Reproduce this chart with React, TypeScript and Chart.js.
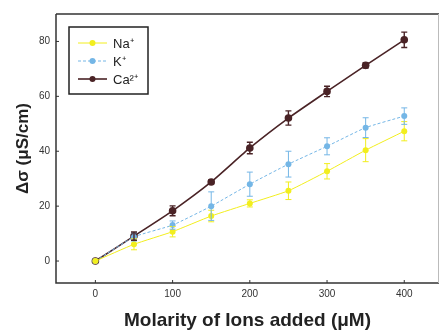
import React, { useEffect, useRef } from "react";
import { Chart, registerables } from "chart.js";

Chart.register(...registerables);

const MOLARITY = [0, 50, 100, 150, 200, 250, 300, 350, 400];
const NA_VALUES = [0, 6.1, 10.7, 16.4, 21.0, 25.6, 32.7, 40.4, 47.3];
const NA_ERRORS = [0, 2.0, 1.9, 2.1, 1.3, 3.2, 2.8, 4.2, 3.5];
const K_VALUES = [0, 8.8, 13.1, 20.0, 28.0, 35.3, 41.8, 48.6, 52.8];
const K_ERRORS = [0, 1.5, 1.5, 5.2, 4.4, 4.7, 3.1, 3.6, 3.0];
const CA_VALUES = [0, 9.1, 18.3, 28.8, 41.2, 52.1, 61.8, 71.3, 80.6];
const CA_ERRORS = [0, 1.5, 1.8, 0.7, 2.1, 2.6, 1.9, 1.0, 2.8];
const X_TICKS = [0, 100, 200, 300, 400];
const Y_TICKS = [0, 20, 40, 60, 80];
const SERIES_LABELS = ["Na⁺", "K⁺", "Ca²⁺"];

const COLORS = ["#f2ee1e", "#74b6e6", "#4a2326"];
const FONT = "Arial, 'Liberation Sans', sans-serif";

const errorBarPlugin = {
  id: "errorBars",
  afterDatasetsDraw(chart: any) {
    const ctx = chart.ctx;
    const xs = chart.scales.x;
    const ys = chart.scales.y;
    const errs = [NA_ERRORS, K_ERRORS, CA_ERRORS];
    const vals = [NA_VALUES, K_VALUES, CA_VALUES];
    ctx.save();
    errs.forEach((e, di) => {
      ctx.strokeStyle = COLORS[di];
      ctx.lineWidth = di === 2 ? 1.4 : 1;
      MOLARITY.forEach((m, i) => {
        if (!e[i]) return;
        const x = xs.getPixelForValue(m);
        const y1 = ys.getPixelForValue(vals[di][i] + e[i]);
        const y2 = ys.getPixelForValue(vals[di][i] - e[i]);
        ctx.beginPath();
        ctx.moveTo(x, y1);
        ctx.lineTo(x, y2);
        ctx.moveTo(x - 3, y1);
        ctx.lineTo(x + 3, y1);
        ctx.moveTo(x - 3, y2);
        ctx.lineTo(x + 3, y2);
        ctx.stroke();
      });
    });
    ctx.restore();
  },
  afterDraw(chart: any) {
    const ctx = chart.ctx;
    const xs = chart.scales.x;
    const ys = chart.scales.y;
    const a = chart.chartArea;
    ctx.save();
    ctx.strokeStyle = "#333";
    ctx.lineWidth = 1.5;
    ctx.beginPath();
    ctx.moveTo(a.left, a.top);
    ctx.lineTo(a.left, a.bottom);
    ctx.lineTo(a.right, a.bottom);
    ctx.moveTo(a.left, a.top);
    ctx.lineTo(a.right, a.top);
    ctx.stroke();
    ctx.strokeStyle = "#bbb";
    ctx.lineWidth = 1;
    ctx.beginPath();
    ctx.moveTo(a.right - 0.5, a.top);
    ctx.lineTo(a.right - 0.5, a.bottom);
    ctx.stroke();
    ctx.strokeStyle = "#333";
    ctx.lineWidth = 1;
    ctx.beginPath();
    X_TICKS.forEach((v) => {
      const x = xs.getPixelForValue(v);
      ctx.moveTo(x, a.bottom);
      ctx.lineTo(x, a.bottom - 3);
    });
    Y_TICKS.forEach((v) => {
      const y = ys.getPixelForValue(v);
      ctx.moveTo(a.left, y);
      ctx.lineTo(a.left + 3, y);
    });
    ctx.stroke();
    const lx = 69, ly = 27, lw = 79, lh = 67;
    ctx.strokeStyle = "#222";
    ctx.lineWidth = 1.5;
    ctx.strokeRect(lx, ly, lw, lh);
    ctx.font = "13px " + FONT;
    ctx.textBaseline = "middle";
    SERIES_LABELS.forEach((lab, i) => {
      const y = 43 + i * 18;
      ctx.strokeStyle = COLORS[i];
      ctx.lineWidth = i === 2 ? 1.6 : 1;
      ctx.setLineDash(i === 1 ? [3, 2] : []);
      ctx.beginPath();
      ctx.moveTo(78, y);
      ctx.lineTo(107, y);
      ctx.stroke();
      ctx.setLineDash([]);
      ctx.fillStyle = COLORS[i];
      ctx.beginPath();
      ctx.arc(92.5, y, 3, 0, Math.PI * 2);
      ctx.fill();
      ctx.fillStyle = "#222";
      ctx.fillText(lab, 113, y + 1);
    });
    ctx.restore();
  },
};

export default function App() {
  const ref = useRef<HTMLCanvasElement>(null);
  useEffect(() => {
    if (!ref.current) return;
    const mk = (label: string, vals: number[], i: number) => ({
      label,
      data: MOLARITY.map((m, j) => ({ x: m, y: vals[j] })),
      borderColor: COLORS[i],
      backgroundColor: COLORS[i],
      borderWidth: i === 2 ? 1.6 : 1,
      borderDash: i === 1 ? [3, 2] : [],
      pointRadius: i === 2 ? 3.8 : 3,
      pointBorderWidth: 0,
      tension: 0.15,
    });
    const tickFont = { family: FONT, size: 10 };
    const chart = new Chart(ref.current, {
      type: "line",
      data: {
        datasets: [
          mk(SERIES_LABELS[0], NA_VALUES, 0),
          mk(SERIES_LABELS[1], K_VALUES, 1),
          mk(SERIES_LABELS[2], CA_VALUES, 2),
        ] as any,
      },
      options: {
        animation: false,
        responsive: false,
        layout: { padding: { top: 14, right: 1, left: 0, bottom: 0 } },
        plugins: { legend: { display: false }, tooltip: { enabled: false } },
        scales: {
          x: {
            type: "linear",
            min: -51,
            max: 445,
            afterBuildTicks: (s: any) => {
              s.ticks = X_TICKS.map((v) => ({ value: v }));
            },
            afterFit: (s: any) => {
              s.height = 49;
            },
            grid: { display: false, drawTicks: false },
            border: { display: false },
            ticks: { color: "#333", font: tickFont, padding: 5 },
            title: {
              display: true,
              text: "Molarity of Ions added (μM)",
              color: "#222",
              font: { family: FONT, size: 19, weight: "bold" },
              padding: { top: 4, bottom: 0 },
            },
          },
          y: {
            type: "linear",
            min: -8,
            max: 90,
            afterBuildTicks: (s: any) => {
              s.ticks = Y_TICKS.map((v) => ({ value: v }));
            },
            afterFit: (s: any) => {
              s.width = 56;
            },
            grid: { display: false, drawTicks: false },
            border: { display: false },
            ticks: { color: "#333", font: tickFont, padding: 6 },
            title: {
              display: true,
              text: "Δσ (μS/cm)",
              color: "#222",
              font: { family: FONT, size: 17, weight: "bold" },
              padding: { top: 13, bottom: 0 },
            },
          },
        },
      },
      plugins: [errorBarPlugin],
    });
    return () => chart.destroy();
  }, []);
  return (
    <div style={{ position: "fixed", left: 0, top: 0, width: 443, height: 332, background: "#fff" }}>
      <canvas ref={ref} width={443} height={332} style={{ display: "block" }} />
    </div>
  );
}
